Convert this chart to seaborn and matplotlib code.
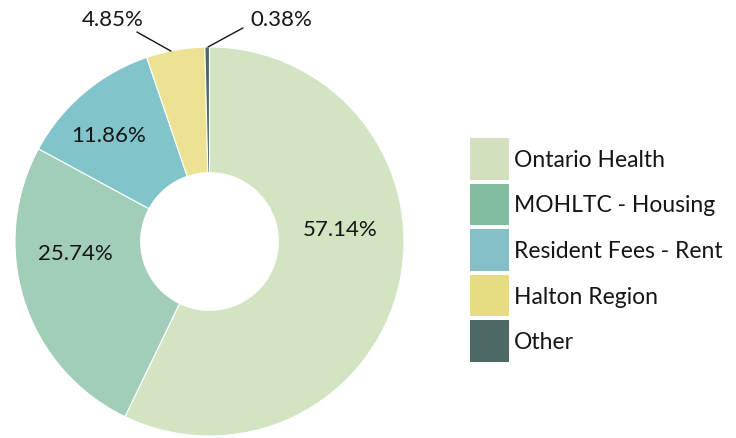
import matplotlib
matplotlib.use("Agg")
import matplotlib.pyplot as plt
from matplotlib.patches import Patch
import seaborn as sns

labels = ["Ontario Health", "MOHLTC - Housing", "Resident Fees - Rent", "Halton Region", "Other"]
shares = [57.14, 25.74, 11.86, 4.85, 0.38]
pie_colors = ["#d3e4c2", "#a2cdb8", "#81c4ca", "#ede294", "#4b6b67"]
legend_colors = ["#d2e0bd", "#80be9f", "#85c0c8", "#e8dc82", "#4e6a66"]

# label placement (axes data units, radius = 1)
inside_pos = {0: (0.67, 0.064), 1: (-0.69, -0.06), 2: (-0.52, 0.545)}
outside_pos = {3: ((-0.34, 1.145), (-0.373, 1.077), (-0.198, 0.979), "right"),
               4: ((0.21, 1.145), (0.172, 1.098), (-0.008, 1.0), "left")}

sns.set_theme(style="white")
plt.rcParams["font.family"] = ["Lato", "DejaVu Sans"]

W, H = 736, 439
fig = plt.figure(figsize=(W / 100, H / 100), dpi=100)
cx, cy, r = 209.5, 439 - 242.5, 194.5
ax = fig.add_axes([(cx - r) / W, (cy - r) / H, 2 * r / W, 2 * r / H])

wedges, _ = ax.pie(shares, colors=sns.color_palette(pie_colors), startangle=90,
                   counterclock=False, radius=1,
                   wedgeprops=dict(width=0.646, edgecolor="white", linewidth=0.8))
ax.set_xlim(-1, 1)
ax.set_ylim(-1, 1)
ax.set_aspect("equal")
ax.axis("off")

txt = "#151515"
for i, (x, y) in inside_pos.items():
    ax.text(x, y, f"{shares[i]:.2f}%", ha="center", va="center", fontsize=16, color=txt)
for i, (tp, p1, p2, ha) in outside_pos.items():
    ax.text(tp[0], tp[1], f"{shares[i]:.2f}%", ha=ha, va="center", fontsize=16,
            color=txt, clip_on=False)
    ax.plot([p1[0], p2[0]], [p1[1], p2[1]], color="#151515", lw=1, clip_on=False)

handles = [Patch(facecolor=c, edgecolor="none") for c in legend_colors]
fig.legend(handles, labels, loc="upper left", bbox_to_anchor=(470 / W, 1 - 139 / H),
           frameon=False, fontsize=16.5, handlelength=1.7, handleheight=2.42,
           handletextpad=0.2, labelspacing=0.17, borderpad=0, borderaxespad=0,
           labelcolor=txt)

fig.savefig("out.png", dpi=100)
